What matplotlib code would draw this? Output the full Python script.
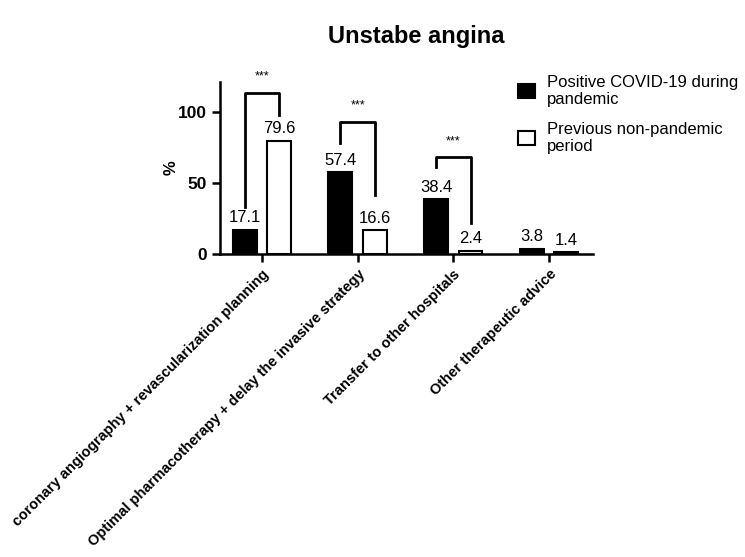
import matplotlib
matplotlib.use("Agg")
import matplotlib.pyplot as plt
import numpy as np

plt.rcParams['font.family'] = ['Liberation Sans', 'DejaVu Sans']

categories = ["coronary angiography + revascularization planning",
              "Optimal pharmacotherapy + delay the invasive strategy",
              "Transfer to other hospitals",
              "Other therapeutic advice"]
covid = [17.1, 57.4, 38.4, 3.8]
previous = [79.6, 16.6, 2.4, 1.4]
series_names = ["Positive COVID-19 during\npandemic", "Previous non-pandemic\nperiod"]
# brackets: (top, left leg end, right leg end) for significant groups
brackets = [(113.4, 33, 98), (93, 78, 41.5), (68, 61, 22)]
sig_labels = ["***", "***", "***"]

fig = plt.figure(figsize=(7.45, 5.57), dpi=100)
ax = fig.add_axes([0.295, 0.544, 0.501, 0.309])

x = np.arange(len(categories))
off = 0.18
w = 0.25
ax.bar(x - off, covid, w, color='black', edgecolor='black', linewidth=1.5,
       label=series_names[0])
ax.bar(x + off, previous, w, color='white', edgecolor='black', linewidth=1.5,
       label=series_names[1])

for xi, v in zip(x - off, covid):
    ax.text(xi, v + 3, f"{v}", ha='center', va='bottom', fontsize=12)
for xi, v in zip(x + off, previous):
    ax.text(xi, v + 3, f"{v}", ha='center', va='bottom', fontsize=12)

for i, ((top, l, r), s) in enumerate(zip(brackets, sig_labels)):
    ax.plot([i - off, i - off, i + off, i + off], [l, top, top, r],
            color='black', linewidth=2, clip_on=False)
    ax.text(i, top + 7, s, ha='center', va='bottom', fontsize=9, clip_on=False)

ax.set_xlim(-0.44, 3.46)
ax.set_ylim(0, 121)
ax.set_yticks([0, 50, 100])
ax.set_yticklabels(["0", "50", "100"], fontsize=12.5, fontweight='bold')
ax.set_xticks(x)
ax.set_xticklabels(categories, rotation=45, ha='right', rotation_mode='anchor',
                   fontsize=10.5, fontweight='bold')
ax.set_ylabel("%", fontsize=12, fontweight='bold', labelpad=0)
ax.yaxis.set_label_coords(-0.11, 0.5)
ax.spines['top'].set_visible(False)
ax.spines['right'].set_visible(False)
ax.spines['left'].set_linewidth(1.8)
ax.spines['bottom'].set_linewidth(1.8)
ax.tick_params(axis='both', width=1.8, length=6, direction='out')

leg = ax.legend(loc='upper left', bbox_to_anchor=(0.76, 1.13), frameon=False,
                fontsize=12, handlelength=1.0, handleheight=0.9, labelspacing=0.9,
                handletextpad=0.7)

fig.suptitle("Unstabe angina", fontsize=17, fontweight='bold', x=0.559, y=0.955)

fig.savefig("out.png", dpi=100)
